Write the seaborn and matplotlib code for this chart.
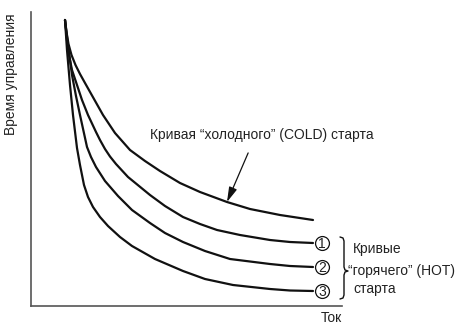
import matplotlib
matplotlib.use("Agg")
import matplotlib.pyplot as plt
import seaborn as sns
import pandas as pd

# Trip-time characteristics (arbitrary units): current on x, operating time on y
cold_x = [34, 35.5, 37.5, 40.5, 44.5, 49, 54, 63, 72, 84, 99, 114, 129, 149, 169, 196, 219, 249, 282]
cold_y = [286, 274, 262, 251, 241, 232, 223, 207, 191, 173, 156, 145, 135, 123, 114, 104, 97, 91, 86]

hot1_x = [34, 36, 38, 41, 45, 51, 57, 65, 69, 74, 79, 85, 97, 119, 134, 152, 169, 186, 209, 239, 259, 282]
hot1_y = [286, 266, 251, 236, 224, 206, 191, 174, 166, 157, 149.5, 142, 129, 111, 100, 89, 82, 76, 71, 66, 64, 63]

hot2_x = [34, 37, 41, 45, 49, 56, 60, 65, 74, 87, 101, 119, 134, 152, 174, 199, 239, 259, 282]
hot2_y = [286, 261, 231, 210, 191, 159, 149, 139, 125, 110, 96, 83, 73, 64, 55, 47, 42, 40, 39]

hot3_x = [34, 36, 39, 42, 46, 49, 53, 57, 62, 69, 77, 89, 101, 124, 152, 174, 202, 239, 259, 282]
hot3_y = [286, 256, 221, 191, 158, 141, 121, 109, 99, 89, 80, 69, 60, 47, 35, 27, 21, 17, 15.5, 15]

hot_labels = ["1", "2", "3"]

y_label = "Время управления"
x_label = "Ток"
cold_text = "Кривая \u201cхолодного\u201d (COLD) старта"
hot_text = ["Кривые", "\u201cгорячего\u201d (HOT)", "старта"]

sns.set_theme(style="white")
plt.rcParams["font.family"] = ["Liberation Sans", "DejaVu Sans"]

fig = plt.figure(figsize=(4.63, 3.24), dpi=100)
ax = fig.add_axes([31 / 463, 18 / 324, 311 / 463, 294 / 324])

curves = [(cold_x, cold_y), (hot1_x, hot1_y), (hot2_x, hot2_y), (hot3_x, hot3_y)]
for cx, cy in curves:
    df = pd.DataFrame({"current": cx, "time": cy})
    sns.lineplot(data=df, x="current", y="time", ax=ax, color="#111111",
                 linewidth=1.6, estimator=None, sort=False,
                 solid_joinstyle="round", solid_capstyle="round")

ax.set_xlim(0, 311)
ax.set_ylim(0, 294)
ax.set_xticks([])
ax.set_yticks([])
ax.set_xlabel("")
ax.set_ylabel("")
for side in ("top", "right"):
    ax.spines[side].set_visible(False)
for side in ("left", "bottom"):
    ax.spines[side].set_color("#555555")
    ax.spines[side].set_linewidth(1.2)

txt = "#222222"
# axis captions
ax.text(-20, 293, y_label, rotation=90, ha="center", va="top",
        fontsize=10, color=txt, clip_on=False)
ax.text(300, -12, x_label, ha="center", va="center", fontsize=10,
        color=txt, clip_on=False)

# cold-start annotation with arrow onto the curve
ax.annotate(cold_text, xy=(cold_x[15], cold_y[15]), xytext=(119, 171),
            ha="left", va="center", fontsize=10, color=txt,
            arrowprops=dict(arrowstyle="-|>,head_length=0.9,head_width=0.25",
                            color="#111111", lw=0.9, shrinkA=6, shrinkB=0,
                            relpos=(0.46, 0.0)))

# circled numbers at the ends of the hot-start curves
end_x = 291
ends_y = [hot1_y[-1], hot2_y[-1], hot3_y[-1]]
ax.scatter([end_x] * 3, ends_y, s=100, facecolor="white", edgecolor="#111111",
           linewidth=0.9, zorder=3, clip_on=False)
for lab, ey in zip(hot_labels, ends_y):
    ax.text(end_x, ey - 0.5, lab, ha="center", va="center", fontsize=10,
            color=txt, zorder=4, clip_on=False)

# curly brace grouping the hot-start curves
bx = [309, 312, 313, 313, 314, 317, 314, 313, 313, 312, 309]
by = [69, 68, 65, 39, 36, 35, 34, 31, 11, 8, 7]
ax.plot(bx, by, color="#111111", lw=1.0, clip_on=False, solid_joinstyle="round")

for (tx, ty), t in zip([(322, 57), (317, 35), (322, 17)], hot_text):
    ax.text(tx, ty, t, ha="left", va="center", fontsize=10, color=txt,
            clip_on=False)

fig.savefig("out.png", dpi=100)
